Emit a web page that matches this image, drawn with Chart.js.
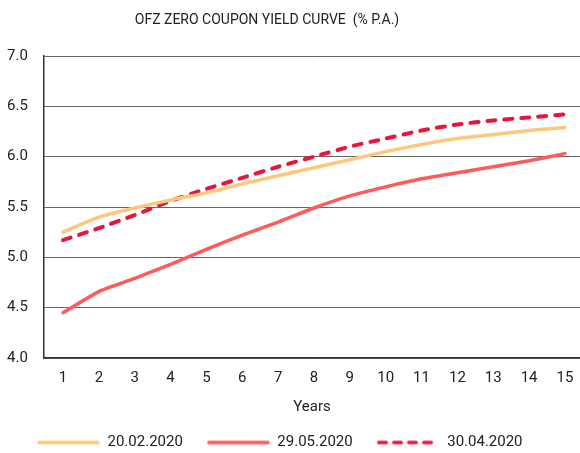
<!DOCTYPE html>
<html>
<head>
<meta charset="utf-8">
<script src="https://cdn.jsdelivr.net/npm/chart.js@4/dist/chart.umd.min.js"></script>
<style>
    html, body { margin: 0; padding: 0; background: #fff; }
    #wrap { position: relative; width: 580px; height: 453px; }
    #title {
        position: absolute; top: 11px; left: 0; width: 534px;
        text-align: center; font-family: Roboto, sans-serif;
        font-size: 14px; color: #222;
    }
</style>
</head>
<body>
<div id="wrap">
    <div id="title">OFZ ZERO COUPON YIELD CURVE &nbsp;(% P.A.)</div>
    <canvas id="myChart" width="580" height="453"></canvas>
</div>
<script>
// Years to maturity
const years = [1, 2, 3, 4, 5, 6, 7, 8, 9, 10, 11, 12, 13, 14, 15];
const yieldTicks = [4.0, 4.5, 5.0, 5.5, 6.0, 6.5, 7.0];

// Yields, % p.a.
const curveFeb20 = [5.25, 5.40, 5.49, 5.57, 5.64, 5.73, 5.81, 5.89, 5.97, 6.05, 6.12, 6.18, 6.22, 6.26, 6.29];
const curveMay29 = [4.45, 4.66, 4.79, 4.93, 5.08, 5.22, 5.35, 5.49, 5.61, 5.70, 5.78, 5.84, 5.90, 5.96, 6.03];
const curveApr30 = [5.17, 5.29, 5.42, 5.56, 5.68, 5.79, 5.90, 6.00, 6.10, 6.18, 6.26, 6.32, 6.36, 6.39, 6.42];

const font = 'Roboto, sans-serif';

function toPoints(values) {
    return years.map((yr, i) => ({x: yr, y: values[i]}));
}

// small line sample used as the legend symbol (left margin keeps gaps like the original)
function legendSwatch(color, dash) {
    const c = document.createElement('canvas');
    c.width = 75;
    c.height = 8;
    const g = c.getContext('2d');
    g.strokeStyle = color;
    g.lineWidth = 3.5;
    g.lineCap = 'round';
    g.setLineDash(dash);
    g.beginPath();
    g.moveTo(14, 4);
    g.lineTo(73, 4);
    g.stroke();
    return c;
}

document.addEventListener("DOMContentLoaded", () => {
    const ctx = document.getElementById('myChart').getContext('2d');
    new Chart(ctx, {
        type: 'line',
        data: {
            datasets: [
                {
                    label: '20.02.2020',
                    data: toPoints(curveFeb20),
                    borderColor: '#FFC77D',
                    borderWidth: 3.5,
                    borderCapStyle: 'round',
                    pointRadius: 0,
                    pointStyle: legendSwatch('#FFC77D', []),
                    tension: 0.2
                },
                {
                    label: '29.05.2020',
                    data: toPoints(curveMay29),
                    borderColor: '#FF5B5B',
                    borderWidth: 3.5,
                    borderCapStyle: 'round',
                    pointRadius: 0,
                    pointStyle: legendSwatch('#FF5B5B', []),
                    tension: 0.2
                },
                {
                    label: '30.04.2020',
                    data: toPoints(curveApr30),
                    borderColor: '#E8163C',
                    borderWidth: 4,
                    borderDash: [8, 9],
                    borderCapStyle: 'round',
                    pointRadius: 0,
                    pointStyle: legendSwatch('#E8163C', [7.5, 7.5]),
                    tension: 0.2
                }
            ]
        },
        options: {
            responsive: false,
            animation: false,
            layout: {
                padding: {left: 13, right: 0, top: 56, bottom: -7}
            },
            scales: {
                x: {
                    type: 'linear',
                    min: 0.47,
                    max: 15.42,
                    afterBuildTicks: axis => {
                        axis.ticks = years.map(v => ({value: v}));
                    },
                    afterFit: axis => {
                        axis.paddingLeft = 0;
                        axis.paddingRight = 0;
                    },
                    grid: {display: false, drawTicks: false},
                    border: {display: true, color: '#333', width: 1.5},
                    ticks: {
                        autoSkip: false,
                        maxRotation: 0,
                        padding: 11,
                        color: '#222',
                        font: {family: font, size: 15}
                    },
                    title: {
                        display: true,
                        text: 'Years',
                        color: '#222',
                        padding: {top: 0, bottom: 7},
                        font: {family: font, size: 15}
                    }
                },
                y: {
                    min: 4,
                    max: 7,
                    afterBuildTicks: axis => {
                        axis.ticks = yieldTicks.map(v => ({value: v}));
                    },
                    afterFit: axis => {
                        axis.width = 31;
                    },
                    grid: {color: '#666', lineWidth: 1, drawTicks: false},
                    border: {display: true, color: '#333', width: 1.5},
                    ticks: {
                        // mirrored labels pulled back left of the axis, so they are not clipped
                        mirror: true,
                        crossAlign: 'far',
                        padding: -37,
                        color: '#222',
                        font: {family: font, size: 15},
                        callback: v => v.toFixed(1)
                    }
                }
            },
            plugins: {
                legend: {
                    position: 'bottom',
                    align: 'start',
                    labels: {
                        usePointStyle: true,
                        pointStyleWidth: 75,
                        boxHeight: 8,
                        padding: 12,
                        color: '#222',
                        font: {family: font, size: 15}
                    }
                },
                tooltip: {enabled: false}
            }
        }
    });
});
</script>
</body>
</html>
